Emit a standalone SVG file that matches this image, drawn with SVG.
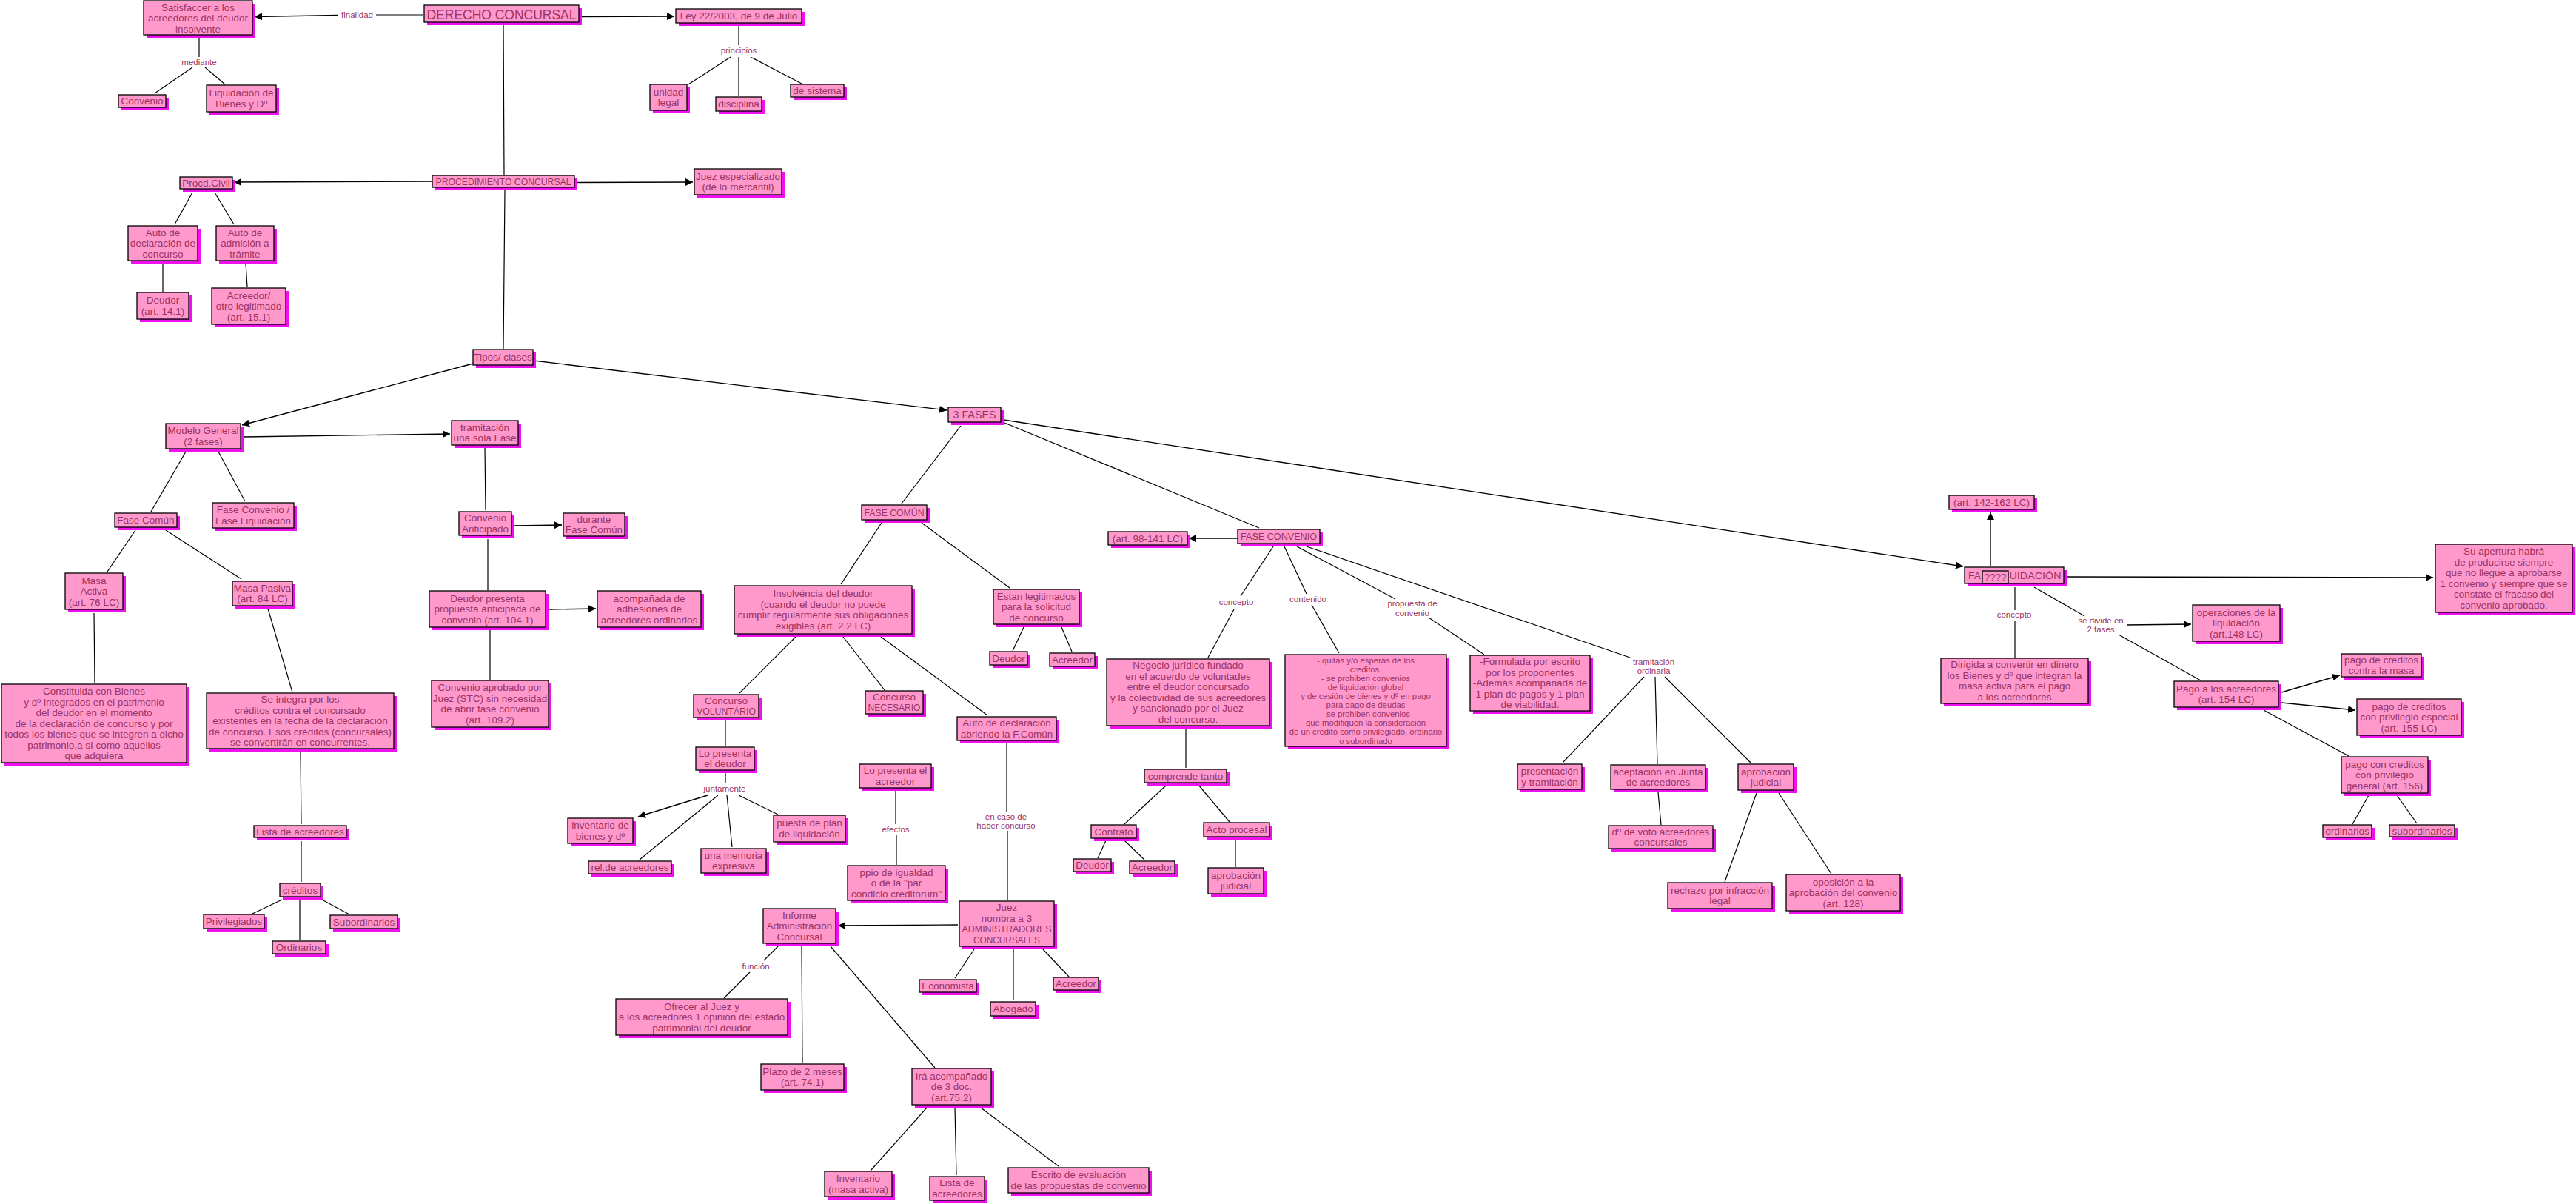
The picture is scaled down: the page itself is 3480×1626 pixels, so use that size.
<svg xmlns="http://www.w3.org/2000/svg" width="3480" height="1626" viewBox="0 0 3480 1626">
<defs>
<marker id="ah" viewBox="0 0 10 10" refX="10" refY="5" markerWidth="10" markerHeight="10" markerUnits="userSpaceOnUse" orient="auto"><path d="M0,0 L10,5 L0,10 z" fill="#000"/></marker>
</defs>
<style>
.s{fill:#EE11EE}
.b{fill:#FF99CC;stroke:#000;stroke-width:1.3}
.t{font-family:"Liberation Sans",Arial,sans-serif;font-size:13.5px;fill:#993366;text-anchor:middle}
.sm{font-size:11.3px}
.l{font-family:"Liberation Sans",Arial,sans-serif;font-size:11.5px;fill:#993366;text-anchor:middle}
.c line{stroke:#000;stroke-width:1.2;fill:none}
.c line.a{marker-end:url(#ah);stroke-width:1.4}
</style>
<rect x="0" y="0" width="3480" height="1626" fill="#fff"/>

<g id="connectors" class="c">
<line x1="572" y1="20" x2="508" y2="20"/>
<line class="a" x1="457" y1="20.5" x2="344" y2="22.5"/>
<line class="a" x1="782" y1="22.5" x2="911" y2="22"/>
<line x1="680" y1="31" x2="681" y2="236"/>
<line x1="269" y1="48" x2="269" y2="77"/>
<line x1="260" y1="91" x2="209" y2="126"/>
<line x1="277" y1="91" x2="304" y2="114"/>
<line x1="998" y1="32" x2="998" y2="61"/>
<line x1="987" y1="77" x2="930" y2="114"/>
<line x1="998" y1="77" x2="998" y2="130"/>
<line x1="1014" y1="77" x2="1083" y2="113"/>
<line class="a" x1="584" y1="245" x2="316" y2="246"/>
<line class="a" x1="776" y1="246.5" x2="936" y2="246"/>
<line x1="260" y1="260" x2="236" y2="303"/>
<line x1="290" y1="260" x2="316" y2="303"/>
<line x1="220" y1="356" x2="220" y2="394"/>
<line x1="332" y1="356" x2="334" y2="387"/>
<line x1="682" y1="257" x2="680" y2="471"/>
<line class="a" x1="639" y1="491" x2="327" y2="574"/>
<line class="a" x1="721" y1="487" x2="1279" y2="554"/>
<line class="a" x1="329" y1="590" x2="608" y2="586"/>
<line x1="251" y1="610" x2="204" y2="691"/>
<line x1="295" y1="610" x2="331" y2="677"/>
<line x1="183" y1="716" x2="145" y2="772"/>
<line x1="224" y1="716" x2="326" y2="782"/>
<line x1="127" y1="828" x2="128" y2="922"/>
<line x1="362" y1="822" x2="395" y2="935"/>
<line x1="406" y1="1016" x2="407" y2="1113"/>
<line x1="407" y1="1136" x2="407" y2="1191"/>
<line x1="381" y1="1215" x2="341" y2="1234"/>
<line x1="405" y1="1215" x2="405" y2="1269"/>
<line x1="435" y1="1215" x2="472" y2="1235"/>
<line x1="655" y1="605" x2="656" y2="689"/>
<line class="a" x1="695" y1="710" x2="759" y2="709"/>
<line x1="659" y1="728" x2="659" y2="797"/>
<line class="a" x1="742" y1="823" x2="805" y2="822"/>
<line x1="662" y1="851" x2="662" y2="918"/>
<line x1="1298" y1="575" x2="1218" y2="680"/>
<line x1="1357" y1="571" x2="1701" y2="713"/>
<line class="a" x1="1356" y1="567" x2="2652" y2="765"/>
<line class="a" x1="1672" y1="727" x2="1606" y2="727"/>
<line x1="1720" y1="738" x2="1676" y2="805"/>
<line x1="1667" y1="823" x2="1632" y2="888"/>
<line x1="1735" y1="738" x2="1765" y2="802"/>
<line x1="1772" y1="817" x2="1809" y2="882"/>
<line x1="1752" y1="738" x2="1885" y2="809"/>
<line x1="1930" y1="834" x2="2005" y2="884"/>
<line x1="1765" y1="738" x2="2202" y2="888"/>
<line x1="2221" y1="914" x2="2112" y2="1029"/>
<line x1="2236" y1="914" x2="2239" y2="1032"/>
<line x1="2249" y1="914" x2="2365" y2="1030"/>
<line x1="2240" y1="1070" x2="2244" y2="1114"/>
<line x1="2373" y1="1071" x2="2330" y2="1191"/>
<line x1="2403" y1="1071" x2="2474" y2="1180"/>
<line x1="1191" y1="706" x2="1136" y2="789"/>
<line x1="1245" y1="706" x2="1364" y2="794"/>
<line x1="1383" y1="847" x2="1368" y2="879"/>
<line x1="1434" y1="847" x2="1448" y2="880"/>
<line x1="1075" y1="860" x2="999" y2="936"/>
<line x1="1139" y1="860" x2="1195" y2="932"/>
<line x1="1190" y1="860" x2="1334" y2="966"/>
<line x1="980" y1="972" x2="980" y2="1007"/>
<line x1="980" y1="1044" x2="980" y2="1058"/>
<line class="a" x1="956" y1="1074" x2="862" y2="1103"/>
<line x1="970" y1="1074" x2="864" y2="1161"/>
<line x1="982" y1="1074" x2="989" y2="1144"/>
<line x1="998" y1="1074" x2="1051" y2="1100"/>
<line x1="1210" y1="1068" x2="1210" y2="1113"/>
<line x1="1211" y1="1127" x2="1211" y2="1168"/>
<line x1="1360" y1="1004" x2="1360" y2="1096"/>
<line x1="1361" y1="1122" x2="1361" y2="1216"/>
<line class="a" x1="1294" y1="1249" x2="1132" y2="1250"/>
<line x1="1316" y1="1282" x2="1290" y2="1321"/>
<line x1="1369" y1="1282" x2="1369" y2="1351"/>
<line x1="1409" y1="1282" x2="1444" y2="1319"/>
<line x1="1051" y1="1278" x2="1032" y2="1297"/>
<line x1="1013" y1="1313" x2="978" y2="1348"/>
<line x1="1083" y1="1278" x2="1084" y2="1436"/>
<line x1="1122" y1="1278" x2="1263" y2="1442"/>
<line x1="1252" y1="1496" x2="1176" y2="1581"/>
<line x1="1290" y1="1496" x2="1292" y2="1587"/>
<line x1="1325" y1="1496" x2="1430" y2="1575"/>
<line x1="1602" y1="984" x2="1602" y2="1037"/>
<line x1="1576" y1="1060" x2="1519" y2="1113"/>
<line x1="1619" y1="1060" x2="1661" y2="1110"/>
<line x1="1494" y1="1135" x2="1483" y2="1159"/>
<line x1="1519" y1="1135" x2="1546" y2="1161"/>
<line x1="1669" y1="1134" x2="1669" y2="1171"/>
<line class="a" x1="2689" y1="765" x2="2689" y2="692"/>
<line class="a" x1="2791" y1="779" x2="3287" y2="780"/>
<line x1="2722" y1="793" x2="2722" y2="824"/>
<line x1="2722" y1="839" x2="2722" y2="888"/>
<line x1="2748" y1="793" x2="2816" y2="832"/>
<line class="a" x1="2873" y1="844" x2="2960" y2="843"/>
<line x1="2862" y1="857" x2="2973" y2="919"/>
<line class="a" x1="3082" y1="935" x2="3161" y2="912"/>
<line class="a" x1="3082" y1="949" x2="3182" y2="959"/>
<line x1="3058" y1="959" x2="3173" y2="1021"/>
<line x1="3200" y1="1074" x2="3178" y2="1113"/>
<line x1="3238" y1="1074" x2="3265" y2="1112"/>
</g>

<g id="labels">
<text class="l" x="482.5" y="24">finalidad</text>
<text class="l" x="269" y="88">mediante</text>
<text class="l" x="998" y="72">principios</text>
<text class="l" x="1670" y="816.6">concepto</text>
<text class="l" x="1767" y="813">contenido</text>
<text class="l" x="1908" y="819">propuesta de</text>
<text class="l" x="1908" y="831.6">convenio</text>
<text class="l" x="2234" y="897.5">tramitación</text>
<text class="l" x="2234" y="909.6">ordinaria</text>
<text class="l" x="979" y="1069">juntamente</text>
<text class="l" x="1210" y="1124">efectos</text>
<text class="l" x="1359" y="1107">en caso de</text>
<text class="l" x="1359" y="1119">haber concurso</text>
<text class="l" x="1021" y="1309">función</text>
<text class="l" x="2721" y="834">concepto</text>
<text class="l" x="2838" y="842">se divide en</text>
<text class="l" x="2838" y="854">2 fases</text>
</g>

<g id="n-satisf"><rect class="s" x="198" y="5" width="147" height="46"/><rect class="b" x="194" y="1" width="147" height="46"/><text class="t"><tspan x="267.5" y="14.7">Satisfaccer a los</tspan><tspan x="267.5" y="29.2">acreedores del deudor</tspan><tspan x="267.5" y="43.7">insolvente</tspan></text></g>
<g id="n-derecho"><rect class="s" x="577" y="11" width="209" height="23"/><rect class="b" x="573" y="7" width="209" height="23"/><text class="t" x="677.5" y="25.5" style="font-size:19px" textLength="202" lengthAdjust="spacingAndGlyphs">DERECHO CONCURSAL</text></g>
<g id="n-ley"><rect class="s" x="917" y="16" width="170" height="19"/><rect class="b" x="913" y="12" width="170" height="19"/><text class="t" x="998" y="26.2">Ley 22/2003, de 9 de Julio</text></g>
<g id="n-unidad"><rect class="s" x="882" y="118" width="50" height="35"/><rect class="b" x="878" y="114" width="50" height="35"/><text class="t"><tspan x="903" y="128.9">unidad</tspan><tspan x="903" y="143.4">legal</tspan></text></g>
<g id="n-disciplina"><rect class="s" x="971" y="135" width="62" height="19"/><rect class="b" x="967" y="131" width="62" height="19"/><text class="t" x="998" y="145.2">disciplina</text></g>
<g id="n-sistema"><rect class="s" x="1072" y="118" width="72" height="17"/><rect class="b" x="1068" y="114" width="72" height="17"/><text class="t" x="1104" y="127.2">de sistema</text></g>
<g id="n-convenio1"><rect class="s" x="164" y="132" width="64" height="17"/><rect class="b" x="160" y="128" width="64" height="17"/><text class="t" x="192" y="141.2">Convenio</text></g>
<g id="n-liquid1"><rect class="s" x="283" y="119" width="94" height="36"/><rect class="b" x="279" y="115" width="94" height="36"/><text class="t"><tspan x="326" y="130.4">Liquidación de</tspan><tspan x="326" y="144.9">Bienes y Dº</tspan></text></g>
<g id="n-proc"><rect class="s" x="588" y="241" width="192" height="16"/><rect class="b" x="584" y="237" width="192" height="16"/><text class="t" x="680" y="249.6" style="font-size:13px" textLength="183" lengthAdjust="spacingAndGlyphs">PROCEDIMIENTO CONCURSAL</text></g>
<g id="n-civil"><rect class="s" x="247" y="243" width="71" height="16"/><rect class="b" x="243" y="239" width="71" height="16"/><text class="t" x="278.5" y="251.7">Procd.Civil</text></g>
<g id="n-juezesp"><rect class="s" x="942" y="232" width="118" height="35"/><rect class="b" x="938" y="228" width="118" height="35"/><text class="t"><tspan x="997" y="242.9">Juez especializado</tspan><tspan x="997" y="257.4">(de lo mercantil)</tspan></text></g>
<g id="n-autodecl"><rect class="s" x="177" y="309" width="94" height="47"/><rect class="b" x="173" y="305" width="94" height="47"/><text class="t"><tspan x="220" y="318.7">Auto de</tspan><tspan x="220" y="333.2">declaración de</tspan><tspan x="220" y="347.7">concurso</tspan></text></g>
<g id="n-autoadm"><rect class="s" x="296" y="309" width="78" height="47"/><rect class="b" x="292" y="305" width="78" height="47"/><text class="t"><tspan x="331" y="318.7">Auto de</tspan><tspan x="331" y="333.2">admisión a</tspan><tspan x="331" y="347.7">trámite</tspan></text></g>
<g id="n-deudor141"><rect class="s" x="189" y="399" width="70" height="36"/><rect class="b" x="185" y="395" width="70" height="36"/><text class="t"><tspan x="220" y="410.4">Deudor</tspan><tspan x="220" y="424.9">(art. 14.1)</tspan></text></g>
<g id="n-acreedor151"><rect class="s" x="290" y="393" width="100" height="49"/><rect class="b" x="286" y="389" width="100" height="49"/><text class="t"><tspan x="336" y="403.7">Acreedor/</tspan><tspan x="336" y="418.2">otro legitimado</tspan><tspan x="336" y="432.7">(art. 15.1)</tspan></text></g>
<g id="n-tipos"><rect class="s" x="643" y="476" width="81" height="21"/><rect class="b" x="639" y="472" width="81" height="21"/><text class="t" x="679.5" y="487.2">Tipos/ clases</text></g>
<g id="n-modelo"><rect class="s" x="228" y="576" width="101" height="34"/><rect class="b" x="224" y="572" width="101" height="34"/><text class="t"><tspan x="274.5" y="586.4">Modelo General</tspan><tspan x="274.5" y="600.9">(2 fases)</tspan></text></g>
<g id="n-tram"><rect class="s" x="614" y="572" width="90" height="33"/><rect class="b" x="610" y="568" width="90" height="33"/><text class="t"><tspan x="655" y="581.9">tramitación</tspan><tspan x="655" y="596.4">una sola Fase</tspan></text></g>
<g id="n-fasecomun1"><rect class="s" x="159" y="697" width="84" height="19"/><rect class="b" x="155" y="693" width="84" height="19"/><text class="t" x="197" y="707.2">Fase Común</text></g>
<g id="n-faseconv1"><rect class="s" x="291" y="683" width="110" height="34"/><rect class="b" x="287" y="679" width="110" height="34"/><text class="t"><tspan x="342" y="693.4">Fase Convenio /</tspan><tspan x="342" y="707.9">Fase Liquidación</tspan></text></g>
<g id="n-masaact"><rect class="s" x="92" y="778" width="78" height="49"/><rect class="b" x="88" y="774" width="78" height="49"/><text class="t"><tspan x="127" y="788.7">Masa</tspan><tspan x="127" y="803.2">Activa</tspan><tspan x="127" y="817.7">(art. 76 LC)</tspan></text></g>
<g id="n-masapas"><rect class="s" x="318" y="789" width="81" height="33"/><rect class="b" x="314" y="785" width="81" height="33"/><text class="t"><tspan x="354.5" y="798.9">Masa Pasiva</tspan><tspan x="354.5" y="813.4">(art. 84 LC)</tspan></text></g>
<g id="n-constituida"><rect class="s" x="6" y="928" width="250" height="106"/><rect class="b" x="2" y="924" width="250" height="106"/><text class="t"><tspan x="127" y="938.2">Constituida con Bienes</tspan><tspan x="127" y="952.7">y dº integrados en el patrimonio</tspan><tspan x="127" y="967.2">del deudor en el momento</tspan><tspan x="127" y="981.7">de la declaración de concurso y por</tspan><tspan x="127" y="996.2">todos los bienes que se integren a dicho</tspan><tspan x="127" y="1010.7">patrimonio,a sí como aquellos</tspan><tspan x="127" y="1025.2">que adquiera</tspan></text></g>
<g id="n-seintegra"><rect class="s" x="283" y="940" width="253" height="75"/><rect class="b" x="279" y="936" width="253" height="75"/><text class="t"><tspan x="405.5" y="949.2">Se integra por los</tspan><tspan x="405.5" y="963.7">créditos contra el concursado</tspan><tspan x="405.5" y="978.2">existentes en la fecha de la declaración</tspan><tspan x="405.5" y="992.7">de concurso. Esos créditos (concursales)</tspan><tspan x="405.5" y="1007.2">se convertirán en concurrentes.</tspan></text></g>
<g id="n-lista1"><rect class="s" x="347" y="1119" width="125" height="16"/><rect class="b" x="343" y="1115" width="125" height="16"/><text class="t" x="405.5" y="1127.7">Lista de acreedores</text></g>
<g id="n-creditos"><rect class="s" x="382" y="1197" width="55" height="18"/><rect class="b" x="378" y="1193" width="55" height="18"/><text class="t" x="405.5" y="1206.7">créditos</text></g>
<g id="n-privil"><rect class="s" x="279" y="1239" width="82" height="19"/><rect class="b" x="275" y="1235" width="82" height="19"/><text class="t" x="316" y="1249.2">Privilegiados</text></g>
<g id="n-subord"><rect class="s" x="450" y="1240" width="91" height="18"/><rect class="b" x="446" y="1236" width="91" height="18"/><text class="t" x="491.5" y="1249.7">Subordinarios</text></g>
<g id="n-ordin"><rect class="s" x="372" y="1275" width="72" height="17"/><rect class="b" x="368" y="1271" width="72" height="17"/><text class="t" x="404" y="1284.2">Ordinarios</text></g>
<g id="n-convantic"><rect class="s" x="624" y="695" width="71" height="32"/><rect class="b" x="620" y="691" width="71" height="32"/><text class="t"><tspan x="655.5" y="704.4">Convenio</tspan><tspan x="655.5" y="718.9">Anticipado</tspan></text></g>
<g id="n-durante"><rect class="s" x="765" y="697" width="83" height="31"/><rect class="b" x="761" y="693" width="83" height="31"/><text class="t"><tspan x="802.5" y="705.9">durante</tspan><tspan x="802.5" y="720.4">Fase Común</tspan></text></g>
<g id="n-deudorpres"><rect class="s" x="584" y="802" width="157" height="49"/><rect class="b" x="580" y="798" width="157" height="49"/><text class="t"><tspan x="658.5" y="812.7">Deudor presenta</tspan><tspan x="658.5" y="827.2">propuesta anticipada de</tspan><tspan x="658.5" y="841.7">convenio (art. 104.1)</tspan></text></g>
<g id="n-acomp"><rect class="s" x="811" y="802" width="140" height="49"/><rect class="b" x="807" y="798" width="140" height="49"/><text class="t"><tspan x="877" y="812.7">acompañada de</tspan><tspan x="877" y="827.2">adhesiones de</tspan><tspan x="877" y="841.7">acreedores ordinarios</tspan></text></g>
<g id="n-convaprob"><rect class="s" x="587" y="923" width="158" height="63"/><rect class="b" x="583" y="919" width="158" height="63"/><text class="t"><tspan x="662" y="933.4">Convenio aprobado por</tspan><tspan x="662" y="947.9">Juez (STC) sin necesidad</tspan><tspan x="662" y="962.4">de abrir fase convenio</tspan><tspan x="662" y="976.9">(art. 109.2)</tspan></text></g>
<g id="n-3fases"><rect class="s" x="1285" y="554" width="71" height="20"/><rect class="b" x="1281" y="550" width="71" height="20"/><text class="t" x="1316.5" y="565" style="font-size:14px" textLength="58" lengthAdjust="spacingAndGlyphs">3 FASES</text></g>
<g id="n-fasecomun"><rect class="s" x="1168" y="686" width="88" height="20"/><rect class="b" x="1164" y="682" width="88" height="20"/><text class="t" x="1208" y="696.8" textLength="81" lengthAdjust="spacingAndGlyphs">FASE COMÚN</text></g>
<g id="n-faseconv"><rect class="s" x="1676" y="719" width="111" height="19"/><rect class="b" x="1672" y="715" width="111" height="19"/><text class="t" x="1727.5" y="729.3" textLength="103" lengthAdjust="spacingAndGlyphs">FASE CONVENIO</text></g>
<g id="n-art98"><rect class="s" x="1501" y="722" width="107" height="18"/><rect class="b" x="1497" y="718" width="107" height="18"/><text class="t" x="1550.5" y="731.7">(art. 98-141 LC)</text></g>
<g id="n-insolv"><rect class="s" x="996" y="795" width="240" height="65"/><rect class="b" x="992" y="791" width="240" height="65"/><text class="t"><tspan x="1112" y="806.4">Insolvéncia del deudor</tspan><tspan x="1112" y="820.9">(cuando el deudor no puede</tspan><tspan x="1112" y="835.4">cumplir regularmente sus obligaciones</tspan><tspan x="1112" y="849.9">exigibles (art. 2.2 LC)</tspan></text></g>
<g id="n-estan"><rect class="s" x="1346" y="800" width="116" height="47"/><rect class="b" x="1342" y="796" width="116" height="47"/><text class="t"><tspan x="1400" y="809.7">Estan legitimados</tspan><tspan x="1400" y="824.2">para la solicitud</tspan><tspan x="1400" y="838.7">de concurso</tspan></text></g>
<g id="n-deudor2"><rect class="s" x="1341" y="884" width="51" height="18"/><rect class="b" x="1337" y="880" width="51" height="18"/><text class="t" x="1362.5" y="893.7">Deudor</text></g>
<g id="n-acreedor2"><rect class="s" x="1422" y="886" width="61" height="18"/><rect class="b" x="1418" y="882" width="61" height="18"/><text class="t" x="1448.5" y="895.7">Acreedor</text></g>
<g id="n-volunt"><rect class="s" x="941" y="942" width="88" height="31"/><rect class="b" x="937" y="938" width="88" height="31"/><text class="t" x="981" y="950.9">Concurso</text><text class="t" x="981" y="965.4" textLength="80" lengthAdjust="spacingAndGlyphs">VOLUNTÁRIO</text></g>
<g id="n-necesario"><rect class="s" x="1173" y="937" width="78" height="31"/><rect class="b" x="1169" y="933" width="78" height="31"/><text class="t" x="1208" y="945.9">Concurso</text><text class="t" x="1208" y="960.4" textLength="71" lengthAdjust="spacingAndGlyphs">NECESARIO</text></g>
<g id="n-autoabr"><rect class="s" x="1297" y="972" width="134" height="32"/><rect class="b" x="1293" y="968" width="134" height="32"/><text class="t"><tspan x="1360" y="981.4">Auto de declaración</tspan><tspan x="1360" y="995.9">abriendo la F.Común</tspan></text></g>
<g id="n-lopresd"><rect class="s" x="944" y="1013" width="79" height="31"/><rect class="b" x="940" y="1009" width="79" height="31"/><text class="t"><tspan x="979.5" y="1021.9">Lo presenta</tspan><tspan x="979.5" y="1036.4">el deudor</tspan></text></g>
<g id="n-lopresa"><rect class="s" x="1165" y="1036" width="97" height="32"/><rect class="b" x="1161" y="1032" width="97" height="32"/><text class="t"><tspan x="1209.5" y="1045.4">Lo presenta el</tspan><tspan x="1209.5" y="1059.9">acreedor</tspan></text></g>
<g id="n-inventario"><rect class="s" x="771" y="1109" width="88" height="34"/><rect class="b" x="767" y="1105" width="88" height="34"/><text class="t"><tspan x="811" y="1119.4">inventario de</tspan><tspan x="811" y="1133.9">bienes y dº</tspan></text></g>
<g id="n-rel"><rect class="s" x="799" y="1167" width="112" height="17"/><rect class="b" x="795" y="1163" width="112" height="17"/><text class="t" x="851" y="1176.2">rel.de acreedores</text></g>
<g id="n-memoria"><rect class="s" x="951" y="1150" width="88" height="33"/><rect class="b" x="947" y="1146" width="88" height="33"/><text class="t"><tspan x="991" y="1159.9">una memoria</tspan><tspan x="991" y="1174.4">expresiva</tspan></text></g>
<g id="n-puesta"><rect class="s" x="1049" y="1105" width="97" height="36"/><rect class="b" x="1045" y="1101" width="97" height="36"/><text class="t"><tspan x="1093.5" y="1116.4">puesta de plan</tspan><tspan x="1093.5" y="1130.9">de liquidación</tspan></text></g>
<g id="n-ppio"><rect class="s" x="1149" y="1173" width="132" height="47"/><rect class="b" x="1145" y="1169" width="132" height="47"/><text class="t"><tspan x="1211" y="1182.7">ppio de igualdad</tspan><tspan x="1211" y="1197.2">o de la "par</tspan><tspan x="1211" y="1211.7">condicio creditorum"</tspan></text></g>
<g id="n-jueznombra"><rect class="s" x="1300" y="1221" width="128" height="61"/><rect class="b" x="1296" y="1217" width="128" height="61"/><text class="t" x="1360" y="1230.4">Juez</text><text class="t" x="1360" y="1244.9">nombra a 3</text><text class="t" x="1360" y="1259.4" textLength="121" lengthAdjust="spacingAndGlyphs">ADMINISTRADORES</text><text class="t" x="1360" y="1273.9" textLength="90" lengthAdjust="spacingAndGlyphs">CONCURSALES</text></g>
<g id="n-informe"><rect class="s" x="1035" y="1231" width="98" height="47"/><rect class="b" x="1031" y="1227" width="98" height="47"/><text class="t"><tspan x="1080" y="1240.7">Informe</tspan><tspan x="1080" y="1255.2">Administración</tspan><tspan x="1080" y="1269.7">Concursal</tspan></text></g>
<g id="n-economista"><rect class="s" x="1246" y="1327" width="77" height="17"/><rect class="b" x="1242" y="1323" width="77" height="17"/><text class="t" x="1280.5" y="1336.2">Economista</text></g>
<g id="n-abogado"><rect class="s" x="1342" y="1357" width="61" height="19"/><rect class="b" x="1338" y="1353" width="61" height="19"/><text class="t" x="1368.5" y="1367.2">Abogado</text></g>
<g id="n-acreedor3"><rect class="s" x="1427" y="1324" width="61" height="17"/><rect class="b" x="1423" y="1320" width="61" height="17"/><text class="t" x="1453.5" y="1333.2">Acreedor</text></g>
<g id="n-ofrecer"><rect class="s" x="836" y="1353" width="232" height="49"/><rect class="b" x="832" y="1349" width="232" height="49"/><text class="t"><tspan x="948" y="1363.7">Ofrecer al Juez y</tspan><tspan x="948" y="1378.2">a los acreedores 1 opinión del estado</tspan><tspan x="948" y="1392.7">patrimonial del deudor</tspan></text></g>
<g id="n-plazo"><rect class="s" x="1032" y="1441" width="112" height="35"/><rect class="b" x="1028" y="1437" width="112" height="35"/><text class="t"><tspan x="1084" y="1451.9">Plazo de 2 meses</tspan><tspan x="1084" y="1466.4">(art. 74.1)</tspan></text></g>
<g id="n-ira"><rect class="s" x="1236" y="1447" width="107" height="49"/><rect class="b" x="1232" y="1443" width="107" height="49"/><text class="t"><tspan x="1285.5" y="1457.7">Irá acompañado</tspan><tspan x="1285.5" y="1472.2">de 3 doc.</tspan><tspan x="1285.5" y="1486.7">(art.75.2)</tspan></text></g>
<g id="n-inv2"><rect class="s" x="1118" y="1586" width="91" height="34"/><rect class="b" x="1114" y="1582" width="91" height="34"/><text class="t"><tspan x="1159.5" y="1596.4">Inventario</tspan><tspan x="1159.5" y="1610.9">(masa activa)</tspan></text></g>
<g id="n-lista2"><rect class="s" x="1260" y="1593" width="74" height="32"/><rect class="b" x="1256" y="1589" width="74" height="32"/><text class="t"><tspan x="1293" y="1602.4">Lista de</tspan><tspan x="1293" y="1616.9">acreedores</tspan></text></g>
<g id="n-escrito"><rect class="s" x="1366" y="1581" width="190" height="34"/><rect class="b" x="1362" y="1577" width="190" height="34"/><text class="t"><tspan x="1457" y="1591.4">Escrito de evaluación</tspan><tspan x="1457" y="1605.9">de las propuestas de convenio</tspan></text></g>
<g id="n-negocio"><rect class="s" x="1499" y="894" width="220" height="90"/><rect class="b" x="1495" y="890" width="220" height="90"/><text class="t"><tspan x="1605" y="903.4">Negocio jurídico fundado</tspan><tspan x="1605" y="917.9">en el acuerdo de voluntades</tspan><tspan x="1605" y="932.4">entre el deudor concursado</tspan><tspan x="1605" y="946.9">y la colectividad de sus acreedores</tspan><tspan x="1605" y="961.4">y sancionado por el Juez</tspan><tspan x="1605" y="975.9">del concurso.</tspan></text></g>
<g id="n-comprende"><rect class="s" x="1550" y="1043" width="111" height="18"/><rect class="b" x="1546" y="1039" width="111" height="18"/><text class="t" x="1601.5" y="1052.7">comprende tanto</text></g>
<g id="n-contrato"><rect class="s" x="1478" y="1118" width="61" height="18"/><rect class="b" x="1474" y="1114" width="61" height="18"/><text class="t" x="1504.5" y="1127.7">Contrato</text></g>
<g id="n-acto"><rect class="s" x="1630" y="1115" width="89" height="19"/><rect class="b" x="1626" y="1111" width="89" height="19"/><text class="t" x="1670.5" y="1125.2">Acto procesal</text></g>
<g id="n-deudor3"><rect class="s" x="1454" y="1164" width="51" height="17"/><rect class="b" x="1450" y="1160" width="51" height="17"/><text class="t" x="1475.5" y="1173.2">Deudor</text></g>
<g id="n-acreedor4"><rect class="s" x="1530" y="1167" width="61" height="17"/><rect class="b" x="1526" y="1163" width="61" height="17"/><text class="t" x="1556.5" y="1176.2">Acreedor</text></g>
<g id="n-aprob1"><rect class="s" x="1636" y="1176" width="75" height="35"/><rect class="b" x="1632" y="1172" width="75" height="35"/><text class="t"><tspan x="1669.5" y="1186.9">aprobación</tspan><tspan x="1669.5" y="1201.4">judicial</tspan></text></g>
<g id="n-quitas"><rect class="s" x="1740" y="888" width="218" height="124"/><rect class="b" x="1736" y="884" width="218" height="124"/><text class="t sm"><tspan x="1845" y="895.6">- quitas y/o esperas de los</tspan><tspan x="1845" y="907.7">creditos.</tspan><tspan x="1845" y="919.8">- se prohiben convenios</tspan><tspan x="1845" y="931.9">de liquidación global</tspan><tspan x="1845" y="944">y de cesión de bienes y dº en pago</tspan><tspan x="1845" y="956.1">para pago de deudas</tspan><tspan x="1845" y="968.2">- se prohiben convenios</tspan><tspan x="1845" y="980.3">que modifiquen la consideración</tspan><tspan x="1845" y="992.4">de un credito como privilegiado, ordinario</tspan><tspan x="1845" y="1004.5">o subordinado</tspan></text></g>
<g id="n-formulada"><rect class="s" x="1990" y="889" width="162" height="75"/><rect class="b" x="1986" y="885" width="162" height="75"/><text class="t"><tspan x="2067" y="898.2">-Formulada por escrito</tspan><tspan x="2067" y="912.7">por los proponentes</tspan><tspan x="2067" y="927.2">-Además acompañada de</tspan><tspan x="2067" y="941.7">1 plan de pagos y 1 plan</tspan><tspan x="2067" y="956.2">de viabilidad.</tspan></text></g>
<g id="n-presentacion"><rect class="s" x="2054" y="1036" width="87" height="34"/><rect class="b" x="2050" y="1032" width="87" height="34"/><text class="t"><tspan x="2093.5" y="1046.4">presentación</tspan><tspan x="2093.5" y="1060.9">y tramitación</tspan></text></g>
<g id="n-aceptacion"><rect class="s" x="2180" y="1037" width="128" height="33"/><rect class="b" x="2176" y="1033" width="128" height="33"/><text class="t"><tspan x="2240" y="1046.9">aceptación en Junta</tspan><tspan x="2240" y="1061.4">de acreedores</tspan></text></g>
<g id="n-aprob2"><rect class="s" x="2352" y="1036" width="75" height="35"/><rect class="b" x="2348" y="1032" width="75" height="35"/><text class="t"><tspan x="2385.5" y="1046.9">aprobación</tspan><tspan x="2385.5" y="1061.4">judicial</tspan></text></g>
<g id="n-voto"><rect class="s" x="2177" y="1119" width="141" height="31"/><rect class="b" x="2173" y="1115" width="141" height="31"/><text class="t"><tspan x="2243.5" y="1127.9">dº de voto acreedores</tspan><tspan x="2243.5" y="1142.4">concursales</tspan></text></g>
<g id="n-rechazo"><rect class="s" x="2257" y="1196" width="141" height="35"/><rect class="b" x="2253" y="1192" width="141" height="35"/><text class="t"><tspan x="2323.5" y="1206.9">rechazo por infracción</tspan><tspan x="2323.5" y="1221.4">legal</tspan></text></g>
<g id="n-oposicion"><rect class="s" x="2417" y="1185" width="154" height="49"/><rect class="b" x="2413" y="1181" width="154" height="49"/><text class="t"><tspan x="2490" y="1195.7">oposición a la</tspan><tspan x="2490" y="1210.2">aprobación del convenio</tspan><tspan x="2490" y="1224.7">(art. 128)</tspan></text></g>
<g id="n-faseliq"><rect class="s" x="2658" y="770" width="134" height="22"/><rect class="b" x="2654" y="766" width="134" height="22"/><text class="t" x="2659" y="781.8" style="text-anchor:start" textLength="17" lengthAdjust="spacingAndGlyphs">FA</text><text class="t" x="2749.5" y="781.8" textLength="70" lengthAdjust="spacingAndGlyphs">UIDACIÓN</text><rect class="b" x="2678" y="771" width="35" height="17"/><text class="t" x="2695.5" y="784.3">????</text></g>
<g id="n-art142"><rect class="s" x="2637" y="673" width="115" height="19"/><rect class="b" x="2633" y="669" width="115" height="19"/><text class="t" x="2690.5" y="683.2">(art. 142-162 LC)</text></g>
<g id="n-apertura"><rect class="s" x="3294" y="739" width="185" height="92"/><rect class="b" x="3290" y="735" width="185" height="92"/><text class="t"><tspan x="3382.5" y="749.4">Su apertura habrá</tspan><tspan x="3382.5" y="763.9">de producirse siempre</tspan><tspan x="3382.5" y="778.4">que no llegue a aprobarse</tspan><tspan x="3382.5" y="792.9">1 convenio y siempre que se</tspan><tspan x="3382.5" y="807.4">constate el fracaso del</tspan><tspan x="3382.5" y="821.9">convenio aprobado.</tspan></text></g>
<g id="n-dirigida"><rect class="s" x="2626" y="893" width="199" height="61"/><rect class="b" x="2622" y="889" width="199" height="61"/><text class="t"><tspan x="2721.5" y="902.4">Dirigida a convertir en dinero</tspan><tspan x="2721.5" y="916.9">los Bienes y dº que integran la</tspan><tspan x="2721.5" y="931.4">masa activa para el pago</tspan><tspan x="2721.5" y="945.9">a los acreedores</tspan></text></g>
<g id="n-operaciones"><rect class="s" x="2966" y="821" width="118" height="49"/><rect class="b" x="2962" y="817" width="118" height="49"/><text class="t"><tspan x="3021" y="831.7">operaciones de la</tspan><tspan x="3021" y="846.2">liquidación</tspan><tspan x="3021" y="860.7">(art.148 LC)</tspan></text></g>
<g id="n-pago"><rect class="s" x="2941" y="924" width="141" height="35"/><rect class="b" x="2937" y="920" width="141" height="35"/><text class="t"><tspan x="3007.5" y="934.9">Pago a los acreedores</tspan><tspan x="3007.5" y="949.4">(art. 154 LC)</tspan></text></g>
<g id="n-contramasa"><rect class="s" x="3167" y="887" width="108" height="31"/><rect class="b" x="3163" y="883" width="108" height="31"/><text class="t"><tspan x="3217" y="895.9">pago de creditos</tspan><tspan x="3217" y="910.4">contra la masa</tspan></text></g>
<g id="n-especial"><rect class="s" x="3188" y="948" width="141" height="49"/><rect class="b" x="3184" y="944" width="141" height="49"/><text class="t"><tspan x="3254.5" y="958.7">pago de creditos</tspan><tspan x="3254.5" y="973.2">con privilegio especial</tspan><tspan x="3254.5" y="987.7">(art. 155 LC)</tspan></text></g>
<g id="n-general"><rect class="s" x="3167" y="1026" width="117" height="49"/><rect class="b" x="3163" y="1022" width="117" height="49"/><text class="t"><tspan x="3221.5" y="1036.7">pago con creditos</tspan><tspan x="3221.5" y="1051.2">con privilegio</tspan><tspan x="3221.5" y="1065.7">general (art. 156)</tspan></text></g>
<g id="n-ordin2"><rect class="s" x="3142" y="1118" width="66" height="17"/><rect class="b" x="3138" y="1114" width="66" height="17"/><text class="t" x="3171" y="1127.2">ordinarios</text></g>
<g id="n-subord2"><rect class="s" x="3232" y="1118" width="88" height="16"/><rect class="b" x="3228" y="1114" width="88" height="16"/><text class="t" x="3272" y="1126.7">subordinarios</text></g>
</svg>
